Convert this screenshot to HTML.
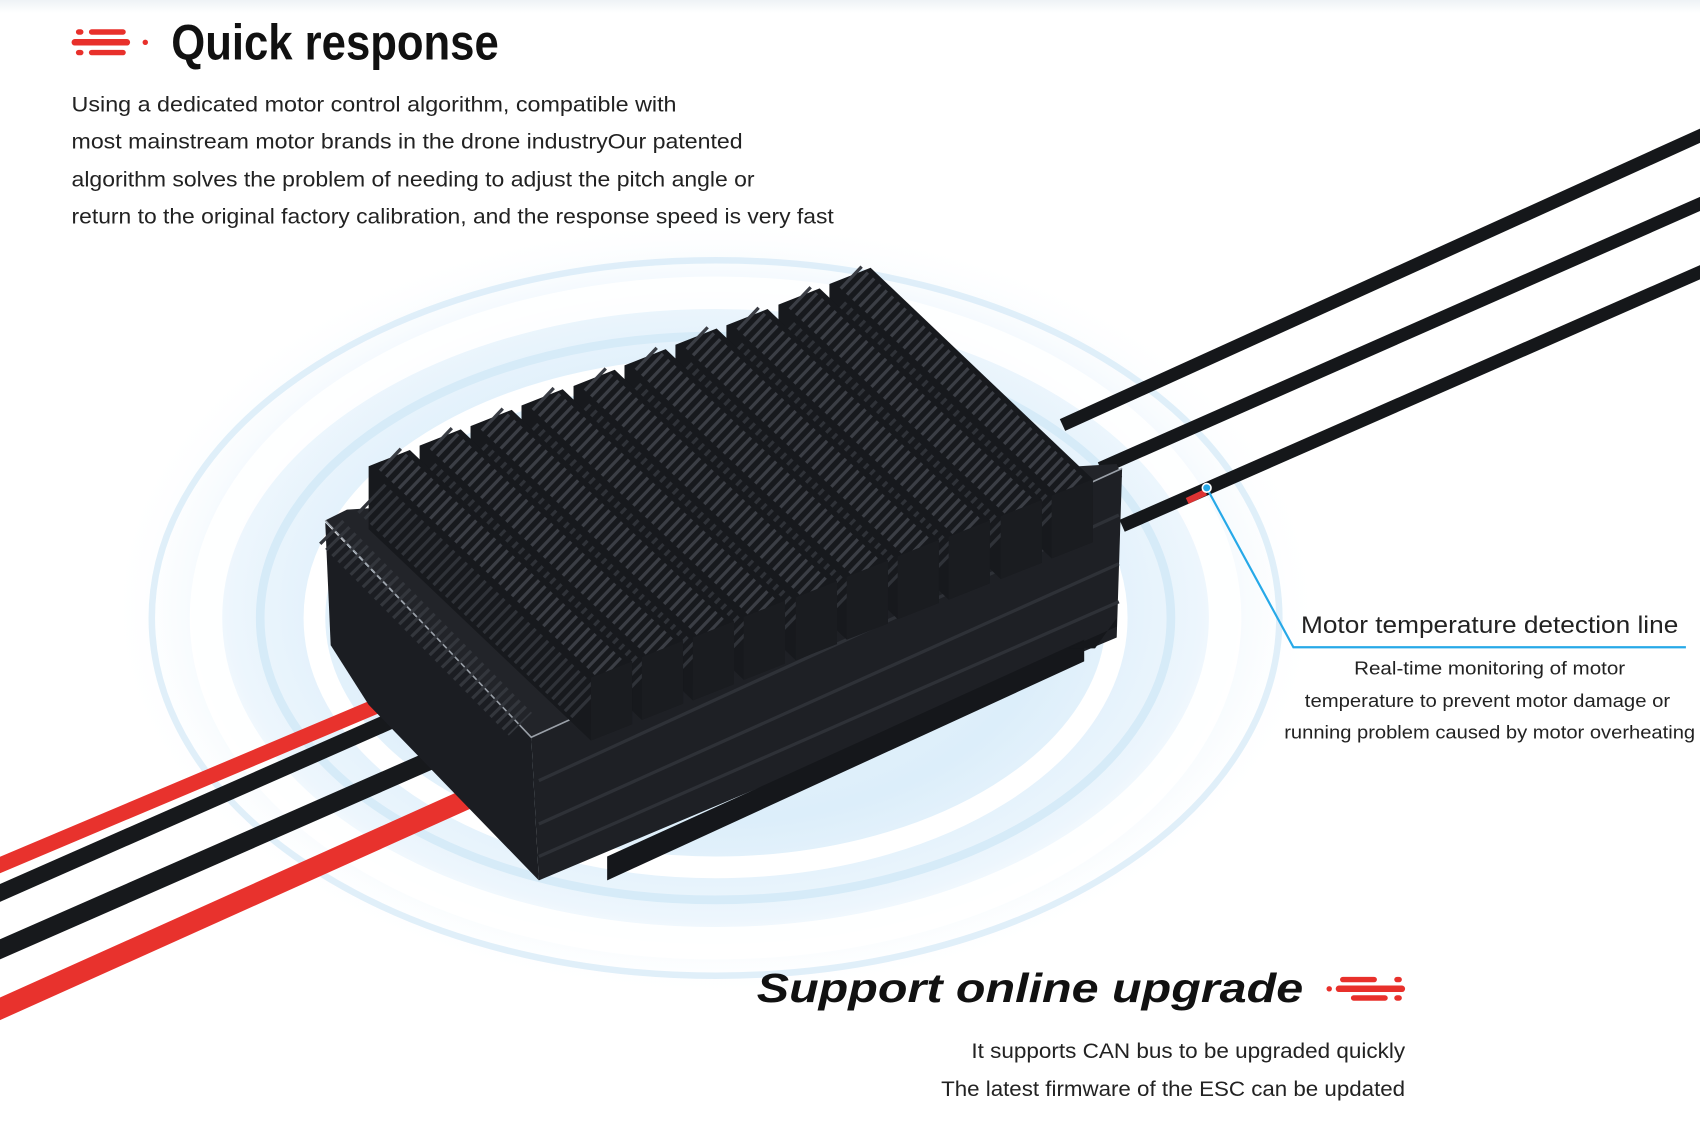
<!DOCTYPE html>
<html><head><meta charset="utf-8"><style>
html,body{margin:0;padding:0;background:#fff;}
svg{display:block}
</style></head><body>
<svg width="1700" height="1146" viewBox="0 0 1568 1057" preserveAspectRatio="none" xmlns="http://www.w3.org/2000/svg">
<defs>
<radialGradient id="glow" cx="0.5" cy="0.5" r="0.5">
<stop offset="0" stop-color="#eef7fd"/>
<stop offset="0.55" stop-color="#dcEEFA"/>
<stop offset="0.8" stop-color="#edf6fd"/>
<stop offset="1" stop-color="#ffffff" stop-opacity="0"/>
</radialGradient>
<linearGradient id="topband" x1="0" y1="0" x2="0" y2="1">
<stop offset="0" stop-color="#eef2f6"/><stop offset="1" stop-color="#fff"/>
</linearGradient>
</defs>
<rect width="1568" height="1057" fill="#fff"/>
<rect width="1568" height="12" fill="url(#topband)"/>
<ellipse cx="660" cy="560" rx="560" ry="360" fill="url(#glow)"/>
<ellipse cx="660" cy="570" rx="470" ry="300" fill="none" stroke="#ffffff" stroke-width="30" opacity="0.9"/>
<ellipse cx="660" cy="570" rx="420" ry="260" fill="none" stroke="#d6ebf8" stroke-width="8"/>
<ellipse cx="660" cy="570" rx="370" ry="230" fill="none" stroke="#fff" stroke-width="20"/>
<ellipse cx="660" cy="570" rx="520" ry="330" fill="none" stroke="#d3e8f6" stroke-width="6" opacity="0.7"/>

<g stroke="#15171a" stroke-width="12">
<line x1="980" y1="392" x2="1575" y2="122"/>
<line x1="1015" y1="432" x2="1575" y2="185"/>
<line x1="1035" y1="485" x2="1575" y2="248"/>
</g>
<line x1="1095" y1="462" x2="1112" y2="454" stroke="#d33" stroke-width="6"/>
<g>
<line x1="-10" y1="802" x2="355" y2="648" stroke="#e8322d" stroke-width="14"/>
<line x1="-10" y1="828" x2="360" y2="665" stroke="#17191c" stroke-width="15"/>
<line x1="-10" y1="880" x2="400" y2="700" stroke="#17191c" stroke-width="17"/>
<line x1="-10" y1="935" x2="435" y2="735" stroke="#e8322d" stroke-width="19"/>
</g>

<!-- housing -->
<polygon points="300,480 320,470 1030,428 1035,440 490,680" fill="#222429"/>
<polygon points="300,482 490,680 497,812 340,650 305,595" fill="#1b1d22"/>
<polygon points="490,680 1035,432 1030,588 497,812" fill="#1e2025"/>
<polyline points="300,480 490,680 1035,432" fill="none" stroke="#9aa0a8" stroke-width="1.5"/>
<g stroke="#2e3137" stroke-width="3">
<line x1="497" y1="720" x2="1032" y2="475"/>
<line x1="497" y1="760" x2="1032" y2="520"/>
<line x1="497" y1="790" x2="1032" y2="555"/>
</g>
<polygon points="560,790 1000,590 1000,610 560,812" fill="#15171b"/>
<polygon points="1030,570 1010,598 985,598 1030,578" fill="#15171b"/>
<!-- left partial ribs on rim -->
<line x1="305" y1="490" x2="480" y2="668" stroke="#33363c" stroke-width="30" stroke-dasharray="3 5"/>

<!-- fins back to front -->
<g stroke-dasharray="3 5" fill="none">
<g><polygon points="765,262 803,247 1008,442 1008,500 970,515 765,320" fill="#17191d" stroke="none"/><line x1="767" y1="291" x2="968" y2="484" stroke="#2f3238" stroke-width="36"/><line x1="784" y1="255" x2="989" y2="450" stroke="#3b3e45" stroke-width="28"/></g>
<g><polygon points="718,281 756,266 961,461 961,519 923,534 718,339" fill="#17191d" stroke="none"/><line x1="720" y1="310" x2="921" y2="503" stroke="#2f3238" stroke-width="36"/><line x1="737" y1="274" x2="942" y2="469" stroke="#3b3e45" stroke-width="28"/></g>
<g><polygon points="670,300 708,285 913,480 913,538 875,553 670,358" fill="#17191d" stroke="none"/><line x1="672" y1="329" x2="873" y2="522" stroke="#2f3238" stroke-width="36"/><line x1="689" y1="293" x2="894" y2="488" stroke="#3b3e45" stroke-width="28"/></g>
<g><polygon points="623,318 661,303 866,498 866,556 828,571 623,376" fill="#17191d" stroke="none"/><line x1="625" y1="347" x2="826" y2="540" stroke="#2f3238" stroke-width="36"/><line x1="642" y1="311" x2="847" y2="506" stroke="#3b3e45" stroke-width="28"/></g>
<g><polygon points="576,337 614,322 819,517 819,575 781,590 576,395" fill="#17191d" stroke="none"/><line x1="578" y1="366" x2="779" y2="559" stroke="#2f3238" stroke-width="36"/><line x1="595" y1="330" x2="800" y2="525" stroke="#3b3e45" stroke-width="28"/></g>
<g><polygon points="529,356 567,341 772,536 772,594 734,609 529,414" fill="#17191d" stroke="none"/><line x1="531" y1="385" x2="732" y2="578" stroke="#2f3238" stroke-width="36"/><line x1="548" y1="349" x2="753" y2="544" stroke="#3b3e45" stroke-width="28"/></g>
<g><polygon points="481,374 519,359 724,554 724,612 686,627 481,432" fill="#17191d" stroke="none"/><line x1="483" y1="403" x2="684" y2="596" stroke="#2f3238" stroke-width="36"/><line x1="500" y1="367" x2="705" y2="562" stroke="#3b3e45" stroke-width="28"/></g>
<g><polygon points="434,393 472,378 677,573 677,631 639,646 434,451" fill="#17191d" stroke="none"/><line x1="436" y1="422" x2="637" y2="615" stroke="#2f3238" stroke-width="36"/><line x1="453" y1="386" x2="658" y2="581" stroke="#3b3e45" stroke-width="28"/></g>
<g><polygon points="387,411 425,396 630,591 630,649 592,664 387,469" fill="#17191d" stroke="none"/><line x1="389" y1="440" x2="590" y2="633" stroke="#2f3238" stroke-width="36"/><line x1="406" y1="404" x2="611" y2="599" stroke="#3b3e45" stroke-width="28"/></g>
<g><polygon points="340,430 378,415 583,610 583,668 545,683 340,488" fill="#17191d" stroke="none"/><line x1="342" y1="459" x2="543" y2="652" stroke="#2f3238" stroke-width="36"/><line x1="359" y1="423" x2="564" y2="618" stroke="#3b3e45" stroke-width="28"/></g>
</g>
<!-- fin front end faces -->
<g fill="#1a1c20">
<polygon points="970,457 1008,442 1008,500 970,515"/>
<polygon points="923,476 961,461 961,519 923,534"/>
<polygon points="875,495 913,480 913,538 875,553"/>
<polygon points="828,513 866,498 866,556 828,571"/>
<polygon points="781,532 819,517 819,575 781,590"/>
<polygon points="734,551 772,536 772,594 734,609"/>
<polygon points="686,569 724,554 724,612 686,627"/>
<polygon points="639,588 677,573 677,631 639,646"/>
<polygon points="592,606 630,591 630,649 592,664"/>
<polygon points="545,625 583,610 583,668 545,683"/>
</g>

<polyline points="1113,450 1193,597 1555,597" fill="none" stroke="#27a9e8" stroke-width="2"/>
<circle cx="1113" cy="450" r="4" fill="#27a9e8" stroke="#fff" stroke-width="1.5"/>

<g fill="#e8302b">
<rect x="70" y="27" width="7" height="5" rx="2.5"/><rect x="82" y="27" width="34" height="5" rx="2.5"/>
<rect x="66" y="36" width="54" height="6" rx="3"/><circle cx="134" cy="39" r="2.5"/>
<rect x="70" y="46" width="7" height="5" rx="2.5"/><rect x="82" y="46" width="34" height="5" rx="2.5"/>
</g>
<text x="158" y="55" font-family="Liberation Sans, sans-serif" font-weight="bold" font-size="46" textLength="302" lengthAdjust="spacingAndGlyphs" fill="#111">Quick response</text>
<g font-family="Liberation Sans, sans-serif" font-size="20" fill="#222">
<text x="66" y="103" textLength="558" lengthAdjust="spacingAndGlyphs">Using a dedicated motor control algorithm, compatible with</text>
<text x="66" y="137" textLength="619" lengthAdjust="spacingAndGlyphs">most mainstream motor brands in the drone industryOur patented</text>
<text x="66" y="172" textLength="630" lengthAdjust="spacingAndGlyphs">algorithm solves the problem of needing to adjust the pitch angle or</text>
<text x="66" y="206" textLength="703" lengthAdjust="spacingAndGlyphs">return to the original factory calibration, and the response speed is very fast</text>
</g>

<g font-family="Liberation Sans, sans-serif" fill="#222">
<text x="1200" y="584" font-size="22" textLength="348" lengthAdjust="spacingAndGlyphs">Motor temperature detection line</text>
<text x="1374" y="622" font-size="17" text-anchor="middle" textLength="250" lengthAdjust="spacingAndGlyphs">Real-time monitoring of motor</text>
<text x="1372" y="652" font-size="17" text-anchor="middle" textLength="337" lengthAdjust="spacingAndGlyphs">temperature to prevent motor damage or</text>
<text x="1374" y="681" font-size="17" text-anchor="middle" textLength="379" lengthAdjust="spacingAndGlyphs">running problem caused by motor overheating</text>
</g>

<text x="698" y="924" font-family="Liberation Sans, sans-serif" font-weight="bold" font-style="italic" font-size="38" textLength="504" lengthAdjust="spacingAndGlyphs" fill="#111">Support  online  upgrade</text>
<g fill="#e8302b">
<circle cx="1226" cy="912" r="2.5"/>
<rect x="1236" y="901" width="34" height="5" rx="2.5"/><rect x="1286" y="901" width="7" height="5" rx="2.5"/>
<rect x="1232" y="909" width="64" height="6" rx="3"/>
<rect x="1246" y="918" width="34" height="5" rx="2.5"/><rect x="1286" y="918" width="7" height="5" rx="2.5"/>
</g>
<g font-family="Liberation Sans, sans-serif" font-size="20" fill="#222" text-anchor="end">
<text x="1296" y="976" textLength="400" lengthAdjust="spacingAndGlyphs">It supports CAN bus to be upgraded quickly</text>
<text x="1296" y="1011" textLength="428" lengthAdjust="spacingAndGlyphs">The latest firmware of the ESC can be updated</text>
</g>
</svg>
</body></html>
